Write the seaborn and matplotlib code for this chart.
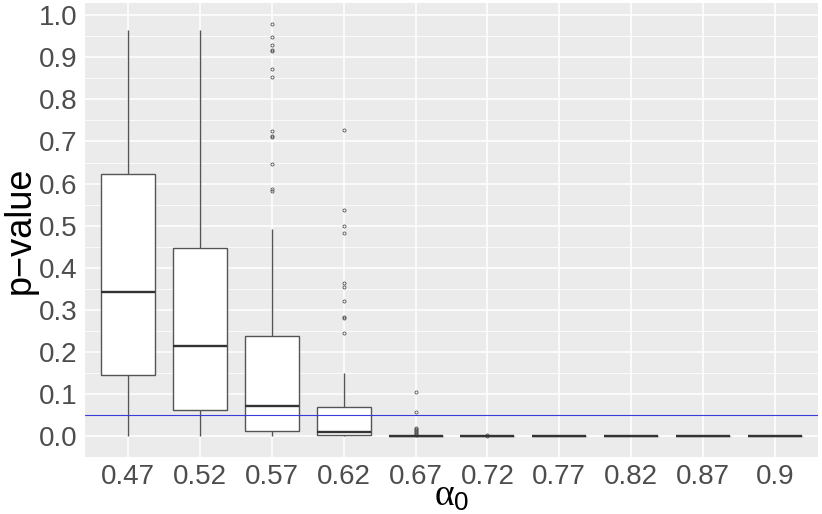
import numpy as np
import pandas as pd
import matplotlib
matplotlib.use("Agg")
import matplotlib.pyplot as plt
import seaborn as sns

# ---- values ----
categories = ["0.47", "0.52", "0.57", "0.62", "0.67", "0.72", "0.77", "0.82", "0.87", "0.9"]
whisker_low = [0.0, 0.0, 0.0, 0.0, 0.0, 0.0, 0.0, 0.0, 0.0, 0.0]
q1 = [0.145, 0.0625, 0.0127, 0.002, 0.0, 0.0, 0.0, 0.0, 0.0, 0.0]
median = [0.343, 0.2146, 0.071, 0.0095, 0.0, 0.0, 0.0, 0.0, 0.0, 0.0]
q3 = [0.623, 0.446, 0.238, 0.070, 0.0, 0.0, 0.0, 0.0, 0.0, 0.0]
whisker_high = [0.964, 0.966, 0.491, 0.151, 0.0, 0.0, 0.0, 0.0, 0.0, 0.0]
outliers_057 = [0.980, 0.948, 0.930, 0.918, 0.915, 0.872, 0.854, 0.726, 0.714, 0.710, 0.646, 0.587, 0.582]
outliers_062 = [0.728, 0.538, 0.498, 0.483, 0.364, 0.354, 0.321, 0.284, 0.281, 0.244]
outliers_067 = [0.104, 0.057, 0.020, 0.017, 0.014, 0.011, 0.009, 0.007, 0.005, 0.003]
outliers_072 = [0.001, 0.0015]
threshold = 0.05

outliers = {"0.57": outliers_057, "0.62": outliers_062, "0.67": outliers_067, "0.72": outliers_072}

# Sample table whose quartiles / whiskers reproduce the read five-number summaries
rows = []
for i, cat in enumerate(categories):
    summary = [whisker_low[i], q1[i], median[i], q3[i], whisker_high[i]]
    for v in summary:
        rows += [(cat, v)] * 100
    for v in outliers.get(cat, []):
        rows.append((cat, v))
df = pd.DataFrame(rows, columns=["alpha", "p"])

sns.set_theme(style="darkgrid")
plt.rcParams["font.family"] = ["Liberation Sans", "DejaVu Sans"]
plt.rcParams["mathtext.fontset"] = "custom"
plt.rcParams["mathtext.rm"] = "Liberation Sans"
plt.rcParams["mathtext.it"] = "Liberation Serif"

W, H = 822, 514
fig = plt.figure(figsize=(W / 100, H / 100), dpi=100)
left, right, top, bottom = 85, 818, 3, 456.7
ax = fig.add_axes([left / W, 1 - bottom / H, (right - left) / W, (bottom - top) / H])
ax.set_facecolor("#EBEBEB")

sns.boxplot(
    data=df, x="alpha", y="p", order=categories, ax=ax,
    color="white", saturation=1, linecolor="#555555", linewidth=1.0,
    width=0.75, whis=1.5, fliersize=2.2,
    flierprops=dict(marker="o", markerfacecolor="none", markeredgecolor="#555555",
                    markeredgewidth=0.6),
    medianprops=dict(linewidth=1.7, color="#333333"),
    showcaps=False,
)

ax.axhline(threshold, color="#3b3bdb", linewidth=0.8, zorder=10)

ax.set_xlim(-0.6, len(categories) - 0.4)
ax.set_ylim(-0.049, 1.029)
ax.set_yticks(np.round(np.arange(0, 1.01, 0.1), 1))
ax.set_yticklabels([f"{v:.1f}" for v in np.arange(0, 1.01, 0.1)])
ax.set_yticks(np.arange(0.05, 1.0, 0.1), minor=True)

ax.grid(True, which="major", color="white", linewidth=1.1)
ax.grid(True, which="minor", axis="y", color="white", linewidth=0.55)
ax.set_axisbelow(True)
for s in ax.spines.values():
    s.set_visible(False)

ax.tick_params(axis="both", which="major", labelsize=20, labelcolor="#4D4D4D",
               color="#333333", length=3.8, width=0.8, pad=1.5)
ax.tick_params(axis="y", which="minor", length=0)

ax.set_xlabel(r"$\alpha_{\mathrm{0}}$", fontsize=27, color="black", labelpad=-9)
ax.set_ylabel("p\u2212value", fontsize=26, color="black", labelpad=1)

fig.savefig("out.png", dpi=100)
